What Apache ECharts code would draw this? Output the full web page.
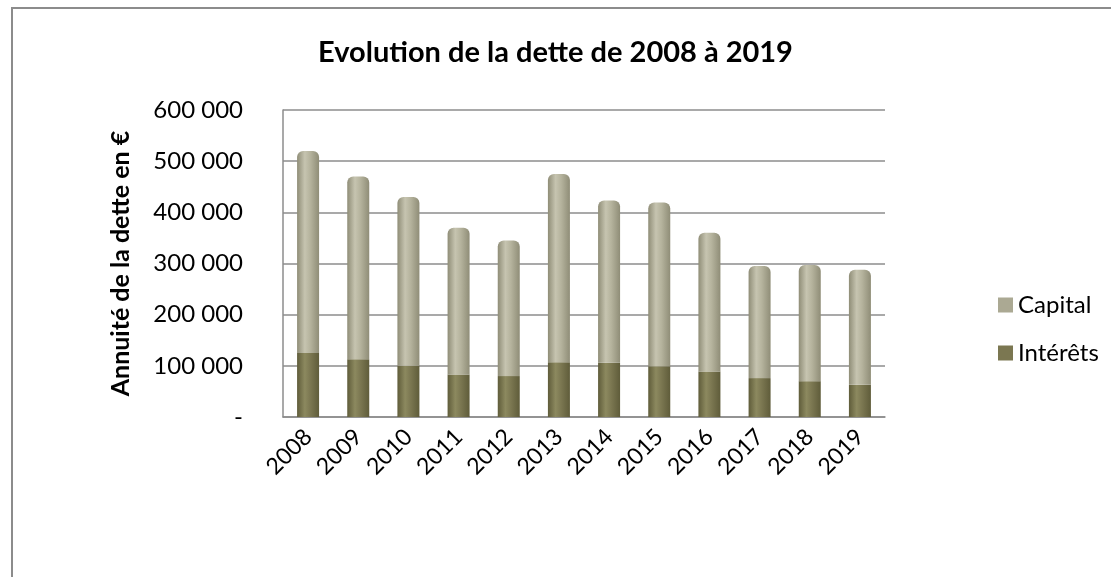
<!DOCTYPE html>
<html>
<head>
<meta charset="utf-8">
<script src="https://cdn.jsdelivr.net/npm/echarts@6/dist/echarts.min.js"></script>
<style>
  html, body { margin: 0; padding: 0; background: #fff; }
  #chart { width: 1111px; height: 577px; }
</style>
</head>
<body>
<div id="chart"></div>
<script>
const years = ['2008', '2009', '2010', '2011', '2012', '2013', '2014', '2015', '2016', '2017', '2018', '2019'];
const capital = [395000, 357000, 330000, 287000, 265000, 368000, 317000, 320000, 271000, 219000, 227000, 225000];
const interets = [125000, 113000, 100000, 83000, 80000, 107000, 106000, 99000, 89000, 76000, 70000, 63000];
const yTicks = [0, 100000, 200000, 300000, 400000, 500000, 600000];

const FontColor = '#000';
const font = 'Lato, "Open Sans", sans-serif';

function cylinder(edge, mid, light) {
  return {
    type: 'linear', x: 0, y: 0, x2: 1, y2: 0,
    colorStops: [
      { offset: 0, color: edge },
      { offset: 0.35, color: light },
      { offset: 0.6, color: mid },
      { offset: 1, color: edge }
    ]
  };
}

const myChart = echarts.init(document.getElementById('chart'));

const option = {
  animation: false,
  backgroundColor: '#fff',
  graphic: [
    {
      type: 'line',
      shape: { x1: 11, y1: 8, x2: 1111, y2: 8 },
      style: { stroke: '#8c8c8c', lineWidth: 2 }
    },
    {
      type: 'line',
      shape: { x1: 12, y1: 7, x2: 12, y2: 577 },
      style: { stroke: '#8c8c8c', lineWidth: 2 }
    }
  ],
  title: {
    text: 'Evolution de la dette de 2008 à 2019',
    left: 'center',
    top: 33,
    textStyle: { fontFamily: font, fontSize: 29, fontWeight: 'bold', color: '#000' }
  },
  legend: {
    orient: 'vertical',
    left: 993,
    top: 288,
    itemWidth: 15,
    itemHeight: 15,
    itemGap: 24,
    icon: 'rect',
    textStyle: { fontFamily: font, fontSize: 24, color: '#000' },
    data: [
      { name: 'Capital', itemStyle: { color: '#aba993' } },
      { name: 'Intérêts', itemStyle: { color: '#7b7751' } }
    ]
  },
  grid: { left: 283, right: 226, top: 110, bottom: 160 },
  xAxis: {
    type: 'category',
    data: years,
    axisLine: { lineStyle: { color: '#8c8c8c', width: 1.5 } },
    axisTick: { show: false },
    axisLabel: {
      rotate: 45,
      color: FontColor,
      fontFamily: font,
      fontSize: 23,
      margin: 16
    }
  },
  yAxis: {
    type: 'value',
    min: yTicks[0],
    max: yTicks[yTicks.length - 1],
    interval: 100000,
    name: 'Annuité de la dette en €',
    nameLocation: 'middle',
    nameGap: 150,
    nameTextStyle: { fontFamily: font, fontSize: 25, fontWeight: 'bold', color: '#000' },
    axisLine: { show: true, lineStyle: { color: '#8c8c8c', width: 1.5 } },
    axisTick: { show: false },
    axisLabel: {
      color: FontColor,
      fontFamily: font,
      fontSize: 24,
      margin: 40,
      formatter: v => v === 0 ? '-' : String(v).replace(/\B(?=(\d{3})+(?!\d))/g, ' ')
    },
    splitLine: { lineStyle: { color: '#8c8c8c', width: 1.5 } }
  },
  series: [
    {
      name: 'Intérêts',
      type: 'bar',
      stack: 'total',
      barWidth: 22,
      data: interets,
      itemStyle: { color: cylinder('#5f5c3a', '#7b7751', '#8c895f') }
    },
    {
      name: 'Capital',
      type: 'bar',
      stack: 'total',
      barWidth: 22,
      data: capital,
      itemStyle: { color: cylinder('#8f8d77', '#b5b39d', '#c6c4b0'), borderRadius: [6, 6, 0, 0] }
    }
  ]
};

myChart.setOption(option);
</script>
</body>
</html>
